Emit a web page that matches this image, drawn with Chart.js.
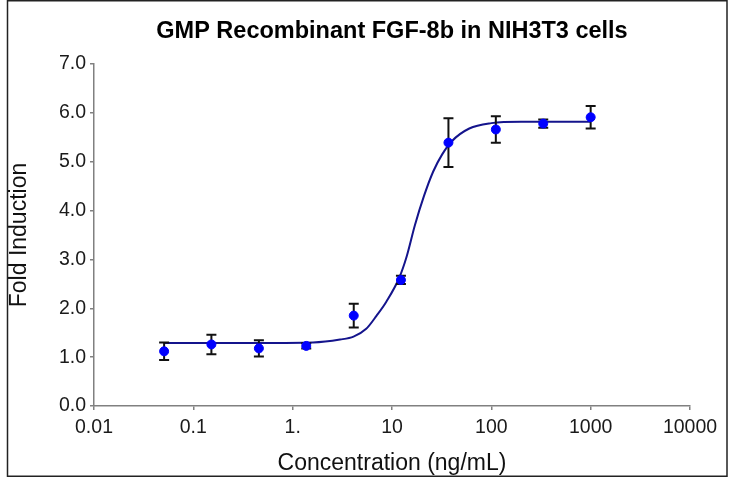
<!DOCTYPE html>
<html>
<head>
<meta charset="utf-8">
<script src="https://cdn.jsdelivr.net/npm/chart.js@4.4.1/dist/chart.umd.min.js"></script>
<style>
  html, body { margin: 0; padding: 0; background: #fff; }
  canvas { display: block; }
</style>
</head>
<body>
<canvas id="doseChart" width="730" height="478"></canvas>
<script>
// dados (diluição seriada 1:3)
const concentracao = [0.0508, 0.152, 0.457, 1.37, 4.12, 12.3, 37.0, 111, 333, 1000];
const foldInduction = [1.12, 1.26, 1.18, 1.23, 1.85, 2.58, 5.39, 5.66, 5.78, 5.91];
const desvio = [0.18, 0.20, 0.165, 0.055, 0.245, 0.085, 0.50, 0.27, 0.085, 0.23];

// pontos da curva ajustada
const curvaX = [0.0508, 0.5, 1.6, 3.0, 4.1, 5.5, 7.0, 8.8, 11.8, 14, 17, 21, 26, 32, 40, 60, 100, 200, 1000];
const curvaY = [1.29, 1.29, 1.30, 1.36, 1.42, 1.58, 1.85, 2.14, 2.62, 3.05, 3.70, 4.30, 4.80, 5.15, 5.42, 5.68, 5.79, 5.82, 5.82];

const xTicks = [0.01, 0.1, 1, 10, 100, 1000, 10000];
const xTickLabels = ['0.01', '0.1', '1.', '10', '100', '1000', '10000'];
const yTicks = [0, 1, 2, 3, 4, 5, 6, 7];

const titulo = 'GMP Recombinant FGF-8b in NIH3T3 cells';
const FONTE = "'Liberation Sans', Arial, sans-serif";

// barras de erro + moldura + título
const extras = {
    id: 'extras',
    afterDatasetDraw(chart, args) {
        if (args.index !== 0) return;
        const ctx = chart.ctx;
        const x = chart.scales.x, y = chart.scales.y;
        ctx.save();
        ctx.strokeStyle = '#111';
        ctx.lineWidth = 2;
        concentracao.forEach((c, i) => {
            const px = x.getPixelForValue(c);
            const top = y.getPixelForValue(foldInduction[i] + desvio[i]);
            const bot = y.getPixelForValue(foldInduction[i] - desvio[i]);
            ctx.beginPath();
            ctx.moveTo(px, top); ctx.lineTo(px, bot);
            ctx.moveTo(px - 5, top); ctx.lineTo(px + 5, top);
            ctx.moveTo(px - 5, bot); ctx.lineTo(px + 5, bot);
            ctx.stroke();
        });
        ctx.restore();
    },
    afterDraw(chart) {
        const ctx = chart.ctx;
        const area = chart.chartArea;
        ctx.save();
        ctx.strokeStyle = '#222';
        ctx.lineWidth = 1.5;
        ctx.strokeRect(7.5, 0.75, 719.5, 475.5);
        ctx.fillStyle = '#000';
        ctx.font = 'bold 23.5px ' + FONTE;
        ctx.textAlign = 'center';
        ctx.textBaseline = 'alphabetic';
        ctx.fillText(titulo, (area.left + area.right) / 2, 38);
        ctx.restore();
    }
};

const ctx = document.getElementById('doseChart').getContext('2d');
new Chart(ctx, {
    type: 'scatter',
    data: {
        datasets: [
            {
                label: 'ajuste',
                data: curvaX.map((v, i) => ({ x: v, y: curvaY[i] })),
                showLine: true,
                cubicInterpolationMode: 'monotone',
                borderColor: '#14148c',
                borderWidth: 2,
                pointRadius: 0,
                order: 2
            },
            {
                label: 'dados',
                data: concentracao.map((v, i) => ({ x: v, y: foldInduction[i] })),
                backgroundColor: '#0000ff',
                borderColor: '#0000ff',
                pointRadius: 4.5,
                order: 1
            }
        ]
    },
    options: {
        responsive: false,
        animation: false,
        devicePixelRatio: 1,
        layout: { padding: { top: 64, left: 0, right: 40, bottom: 0 } },
        plugins: { legend: { display: false }, tooltip: { enabled: false } },
        scales: {
            x: {
                type: 'logarithmic',
                min: 0.01,
                max: 10000,
                afterFit: s => { s.height = 72; },
                afterBuildTicks: s => { s.ticks = xTicks.map(v => ({ value: v })); },
                ticks: {
                    callback: (v) => xTickLabels[xTicks.indexOf(v)],
                    color: '#1a1a1a',
                    font: { family: FONTE, size: 19.5 },
                    padding: 6,
                    maxRotation: 0,
                    autoSkip: false
                },
                grid: { display: true, drawOnChartArea: false, drawTicks: true, tickLength: 4, color: '#808080', lineWidth: 1.5 },
                border: { display: true, color: '#808080', width: 1.5 },
                title: {
                    display: true,
                    text: 'Concentration (ng/mL)',
                    color: '#111',
                    font: { family: FONTE, size: 23 },
                    padding: { top: 0, bottom: 1 }
                }
            },
            y: {
                min: 0,
                max: 7,
                afterFit: s => { s.width = 94; },
                afterBuildTicks: s => { s.ticks = yTicks.map(v => ({ value: v })); },
                ticks: {
                    callback: v => v.toFixed(1),
                    color: '#1a1a1a',
                    font: { family: FONTE, size: 19.5 },
                    padding: 4
                },
                grid: { display: true, drawOnChartArea: false, drawTicks: true, tickLength: 4, color: '#808080', lineWidth: 1.5 },
                border: { display: true, color: '#808080', width: 1.5 },
                title: {
                    display: true,
                    text: 'Fold Induction',
                    color: '#111',
                    font: { family: FONTE, size: 23 },
                    padding: { top: 6, bottom: 0 }
                }
            }
        }
    },
    plugins: [extras]
});
</script>
</body>
</html>
